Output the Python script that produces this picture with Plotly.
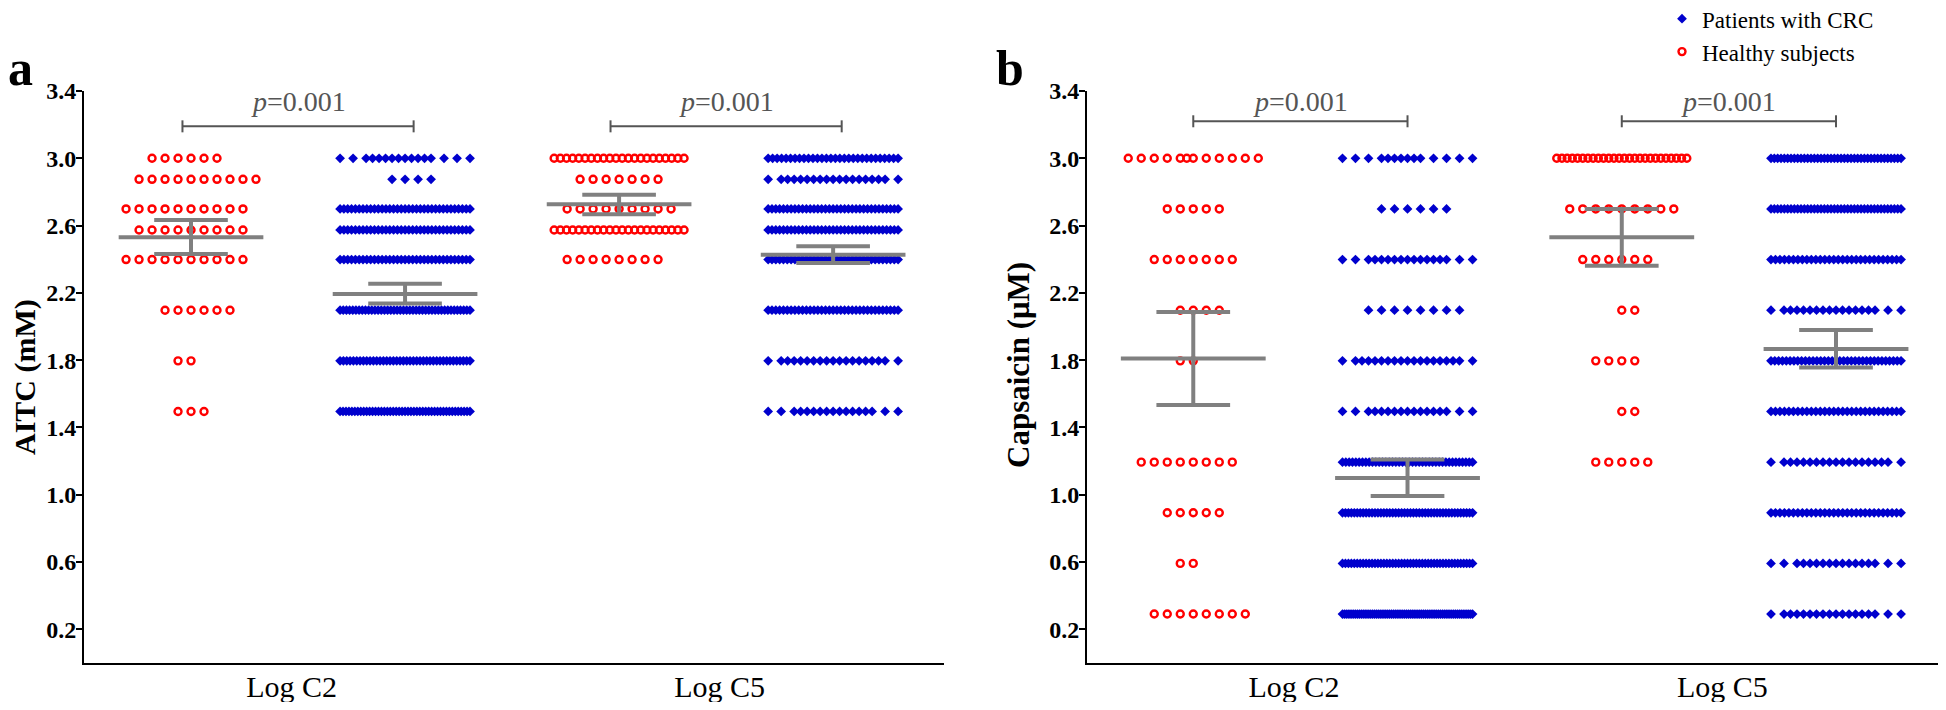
import numpy as np
import plotly.graph_objects as go

categories = ["Log C2", "Log C5"]

# ---- Panel a: AITC (mM), values are log-scale levels ----
aitc_levels = [3.0, 2.875, 2.699, 2.574, 2.398, 2.097, 1.796, 1.495]
aitc_healthy_c2 = [6, 10, 10, 9, 10, 6, 2, 3]
aitc_crc_c2 = [16, 4, 35, 35, 35, 42, 40, 45]
aitc_healthy_c5 = [22, 7, 9, 22, 8, 0, 0, 0]
aitc_crc_c5 = [30, 19, 35, 35, 35, 35, 19, 17]

# ---- Panel b: Capsaicin (uM) ----
caps_levels = [3.0, 2.699, 2.398, 2.097, 1.796, 1.495, 1.194, 0.893, 0.592, 0.291]
caps_healthy_c2 = [12, 5, 7, 4, 2, 0, 8, 5, 2, 8]
caps_crc_c2 = [14, 6, 17, 8, 19, 17, 40, 45, 45, 70]
caps_healthy_c5 = [26, 9, 6, 2, 4, 2, 5, 0, 0, 0]
caps_crc_c5 = [40, 40, 30, 18, 35, 30, 19, 30, 17, 18]

# ---- mean and 95% CI, order [Log C2, Log C5] ----
aitc_mean_healthy = [2.53, 2.727]
aitc_lo_healthy = [2.431, 2.668]
aitc_hi_healthy = [2.633, 2.784]
aitc_mean_crc = [2.194, 2.427]
aitc_lo_crc = [2.137, 2.378]
aitc_hi_crc = [2.255, 2.477]

caps_mean_healthy = [1.81, 2.53]
caps_lo_healthy = [1.534, 2.362]
caps_hi_healthy = [2.087, 2.699]
caps_mean_crc = [1.10, 1.867]
caps_lo_crc = [0.993, 1.757]
caps_hi_crc = [1.21, 1.98]

p_labels = ["0.001", "0.001"]
y_ticks = [0.2, 0.6, 1.0, 1.4, 1.8, 2.2, 2.6, 3.0, 3.4]

# ---- layout constants (figure sits inside the page's 8px body margin) ----
W, H = 1930, 694
SLOT = 13 / 428.3          # horizontal spacing of dots (category units)
OFF_H, OFF_C = -0.235, 0.265
RED = "#FF0000"
BLUE = "#0000CD"
GRAY = "#808080"
SERIF = "Liberation Serif"


def row_offsets(n, idx):
    if n <= 0:
        return []
    if n <= 11:
        start = -(n // 2)
        if n % 2 == 0 and idx % 2 == 1:
            start += 1
        return [start + k for k in range(n)]
    if n <= 21:
        full = list(range(-5, 6))
        halves = sorted([h + 0.5 for h in range(-5, 5)], key=lambda v: (abs(v), v))
        return full + halves[: n - 11]
    return list(np.linspace(-5, 5, n))


def swarm(levels, counts_list, offset):
    xs, ys = [], []
    for ci, counts in enumerate(counts_list):
        center = ci + 1 + offset
        for idx, (lv, n) in enumerate(zip(levels, counts)):
            for s in row_offsets(n, idx):
                xs.append(center + s * SLOT)
                ys.append(lv)
    return xs, ys


def mean_ci(means, los, his, offset):
    xs, ys = [], []
    for ci in range(len(means)):
        c = ci + 1 + offset
        m, lo, hi = means[ci], los[ci], his[ci]
        xs += [c - 0.169, c + 0.169, None, c - 0.086, c + 0.086, None,
               c - 0.086, c + 0.086, None, c, c, None]
        ys += [m, m, None, hi, hi, None, lo, lo, None, lo, hi, None]
    return xs, ys


fig = go.Figure()

panels = [
    ("x", "y", aitc_levels, [aitc_healthy_c2, aitc_healthy_c5], [aitc_crc_c2, aitc_crc_c5],
     (aitc_mean_healthy, aitc_lo_healthy, aitc_hi_healthy),
     (aitc_mean_crc, aitc_lo_crc, aitc_hi_crc), 3.19, 0.02),
    ("x2", "y2", caps_levels, [caps_healthy_c2, caps_healthy_c5], [caps_crc_c2, caps_crc_c5],
     (caps_mean_healthy, caps_lo_healthy, caps_hi_healthy),
     (caps_mean_crc, caps_lo_crc, caps_hi_crc), 3.22, 0.0),
]

for pi, (xa, ya, levels, healthy, crc, hstats, cstats, by, ext) in enumerate(panels):
    hx, hy = swarm(levels, healthy, OFF_H)
    fig.add_trace(go.Scatter(
        x=hx, y=hy, xaxis=xa, yaxis=ya, mode="markers", name="Healthy subjects",
        legendrank=2, showlegend=(pi == 1),
        marker=dict(symbol="circle-open", size=7, color=RED, line=dict(width=2.4, color=RED))))
    cx, cy = swarm(levels, crc, OFF_C)
    fig.add_trace(go.Scatter(
        x=cx, y=cy, xaxis=xa, yaxis=ya, mode="markers", name="Patients with CRC",
        legendrank=1, showlegend=(pi == 1),
        marker=dict(symbol="diamond", size=7.5, color=BLUE, line=dict(width=0))))
    for stats, off in ((hstats, OFF_H), (cstats, OFF_C)):
        mx, my = mean_ci(*stats, off)
        fig.add_trace(go.Scatter(x=mx, y=my, xaxis=xa, yaxis=ya, mode="lines",
                                 showlegend=False, hoverinfo="skip",
                                 line=dict(color=GRAY, width=4)))
    # significance brackets
    bx, byy = [], []
    tk = 6 / 168.2
    for ci in range(2):
        x0 = ci + 1 + OFF_H - ext
        x1 = ci + 1 + OFF_C + ext
        bx += [x0, x0, None, x0, x1, None, x1, x1, None]
        byy += [by - tk, by + tk, None, by, by, None, by - tk, by + tk, None]
        fig.add_annotation(x=(x0 + x1) / 2, y=3.335, xref=xa, yref=ya,
                           text="<i>p</i>=" + p_labels[ci], showarrow=False,
                           font=dict(family=SERIF, size=28, color="#555555"),
                           xanchor="center", yanchor="middle")
    fig.add_trace(go.Scatter(x=bx, y=byy, xaxis=xa, yaxis=ya, mode="lines",
                             showlegend=False, hoverinfo="skip",
                             line=dict(color="#555555", width=2)))

ydom = [1 - 655 / H, 1 - 83 / H]
xaxis_common = dict(showline=True, linecolor="black", linewidth=2,
                    ticks="", tickvals=[1, 2], ticktext=categories,
                    tickfont=dict(family=SERIF, size=30, color="black"),
                    showgrid=False, zeroline=False, ticklabelstandoff=-4, automargin=False)
yaxis_common = dict(range=[0, 3.4], showline=True, linecolor="black", linewidth=2,
                    ticks="outside", ticklen=6, tickwidth=2, tickcolor="black",
                    tickvals=y_ticks, ticktext=[f"{v:.1f}" for v in y_ticks],
                    tickfont=dict(family=SERIF, size=24, color="black", weight="bold"),
                    showgrid=False, zeroline=False, domain=ydom, ticklabelstandoff=-5,
                    automargin=False)

fig.update_layout(
    width=W, height=H, margin=dict(l=0, r=0, t=0, b=0, autoexpand=False),
    plot_bgcolor="white", paper_bgcolor="white",
    xaxis=dict(xaxis_common, domain=[76 / W, 936 / W], range=[0.515, 2.524], anchor="y"),
    yaxis=dict(yaxis_common, anchor="x"),
    xaxis2=dict(xaxis_common, domain=[1079 / W, 1.0], range=[0.517, 2.503], anchor="y2"),
    yaxis2=dict(yaxis_common, anchor="x2"),
    legend=dict(x=1654 / W, y=1.0155, xanchor="left", yanchor="top",
                font=dict(family=SERIF, size=23, color="black"),
                bgcolor="rgba(0,0,0,0)", tracegroupgap=0, itemsizing="trace"),
    showlegend=True,
)

# panel letters and axis titles
fig.add_annotation(x=12 / W, y=1 - 60 / H, xref="paper", yref="paper", text="<b>a</b>",
                   xanchor="center", yanchor="middle",
                   showarrow=False, font=dict(family=SERIF, size=50, color="black"))
fig.add_annotation(x=1002 / W, y=1 - 60 / H, xref="paper", yref="paper", text="<b>b</b>",
                   xanchor="center", yanchor="middle",
                   showarrow=False, font=dict(family=SERIF, size=50, color="black"))
fig.add_annotation(x=17 / W, y=1 - 369 / H, xref="paper", yref="paper", text="<b>AITC (mM)</b>",
                   xanchor="center", yanchor="middle",
                   textangle=-90, showarrow=False, font=dict(family=SERIF, size=30, color="black"))
fig.add_annotation(x=1010 / W, y=1 - 357 / H, xref="paper", yref="paper",
                   text="<b>Capsaicin (μM)</b>", textangle=-90, showarrow=False,
                   xanchor="center", yanchor="middle",
                   font=dict(family=SERIF, size=31, color="black"))

fig.write_html("out.html")
